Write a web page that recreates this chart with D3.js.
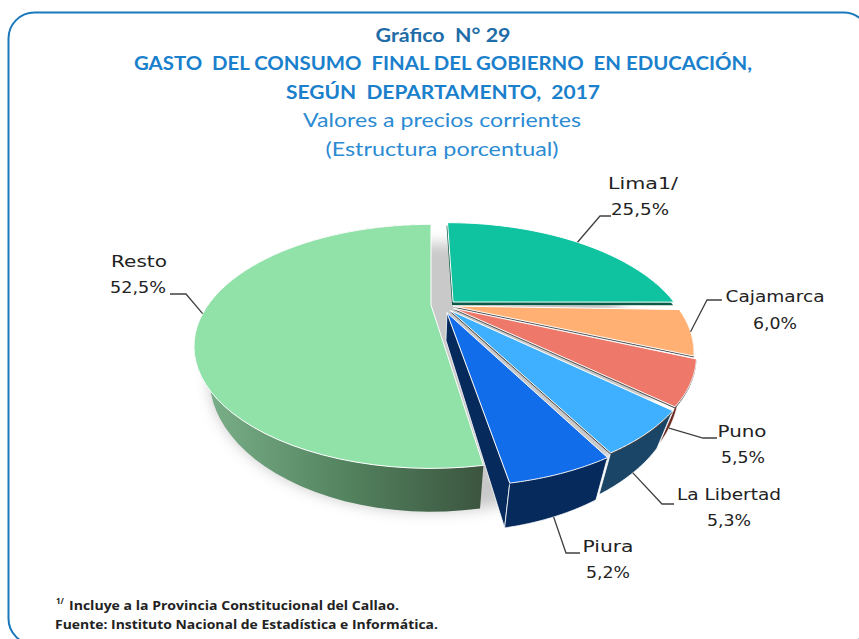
<!DOCTYPE html>
<html><head><meta charset="utf-8">
<script src="https://cdnjs.cloudflare.com/ajax/libs/d3/7.8.5/d3.min.js"></script>
<style>html,body{margin:0;padding:0;background:#fff}svg{display:block}</style>
</head><body><svg id="c" width="859" height="639"></svg>
<script>
// --- data
const categories = ["Lima1/", "Cajamarca", "Puno", "La Libertad", "Piura", "Resto"];
const shares = [25.5, 6.0, 5.5, 5.3, 5.2, 52.5];
// --- styles and layout
const topColors  = ["#10c3a0", "#ffb072", "#ee786a", "#3fb0ff", "#126dea", "#90e2a9"];
const wallColors = [null, null, "#6e2f28", "#1a4566", "#062a5c", "url(#wallGrad)"];
const lipColors  = ["#0a5a48", "#555", "#555", "#444", "#062a5c", null];
const explodeU = [.10, .098, .10, .085, .07, 0];
const explodeV = [-.028, .01, .03, .05, .07, 0];
const endTrim = [.03, 0, 0, 0, 0, 0];
const anchorOnBase = [false, false, true, true, true, false];
const anchorFrac = [.5, .5, .7, .5, .5, .5];
const knees = [[600,216,611,216],[707,300,722,300],[703,438,717,438],[662,504,674,504],[566,553,580,553],[186,294,170,294]];
const labelPos = [[643,189,70],[775,302,99],[742,437,49],[729,500,104],[608,552,51],[139,267,56]];
const valuePos = [[640,215,58],[775,329,44],[743,463,44],[729,526,44],[608,578,44],[138,293,56]];

const X0 = 431, Y0 = 305, A = 223, B = 108, K = .339;   // perspective plane
const SX = .935, SY = 1.1, DY = 27;                      // base plane

const svg = d3.select("#c");
const defs = svg.append("defs");
const f = defs.append("filter").attr("id","blur").attr("x","-20%").attr("y","-20%").attr("width","140%").attr("height","140%");
f.append("feGaussianBlur").attr("stdDeviation",7);
const g = defs.append("linearGradient").attr("id","wallGrad").attr("gradientUnits","userSpaceOnUse")
  .attr("x1",205).attr("x2",480).attr("y1",0).attr("y2",0);
g.append("stop").attr("offset",0).attr("stop-color","#7ab089");
g.append("stop").attr("offset",.5).attr("stop-color","#548460");
g.append("stop").attr("offset",1).attr("stop-color","#3c5640");

svg.append("rect").attr("x",8.5).attr("y",12.5).attr("width",861).attr("height",632).attr("rx",26)
  .attr("fill","#fff").attr("stroke","#1a78bd").attr("stroke-width",2);

const project = (u,v) => { const w = 1 - K*v; return [X0 + A*u/w, Y0 + B*v/w]; };
const toBase = p => [X0 + (p[0]-X0)*SX, Y0 + (p[1]-Y0)*SY + DY];
const pt = (i,a,r=1) => project(explodeU[i] + r*Math.sin(a), explodeV[i] - r*Math.cos(a));
const arcPts = (i,a0,a1) => d3.range(0,61).map(k => pt(i, a0 + (a1-a0)*k/60));
const line = d3.line();
const pieData = d3.pie().sort(null).value(d => d)(shares);

// soft shadow under the pie
const full = d3.range(0,121).map(k => toBase(project(Math.sin(k/120*2*Math.PI), -Math.cos(k/120*2*Math.PI))));
svg.append("path").attr("d", line(full)+"Z").attr("fill","#8a8a8a").attr("opacity",.46).attr("filter","url(#blur)");

const slices = svg.append("g");
const topPath = (d,i) => line([pt(i,0,0), ...arcPts(i,d.startAngle,d.endAngle-endTrim[i])]) + "Z";

// Piura cut face
{
  const i = 4, d = pieData[i];
  const a = pt(i,0,0), o = pt(i,d.endAngle);
  slices.append("path").attr("d", line([a,o,toBase(o),toBase(a)])+"Z").attr("fill",wallColors[i]).attr("stroke","#fff").attr("stroke-width",.8);
}
// outer walls
[5,2,3,4].forEach(i => {
  const d = pieData[i], top = arcPts(i,d.startAngle,d.endAngle);
  slices.append("path").attr("d", line([...top, ...top.map(toBase).reverse()])+"Z")
    .attr("fill",wallColors[i]).attr("stroke", i===5 ? "none" : "#fff").attr("stroke-width",.8);
});
// top faces with their thin darker lips, back to front
[0,1,2,3,4,5].forEach(i => {
  const d = pieData[i];
  if (lipColors[i]) slices.append("path").attr("d",topPath(d,i)).attr("fill",lipColors[i])
    .attr("transform", i===0 ? "translate(-1,3)" : "translate(0,1.6)");
  slices.append("path").attr("d",topPath(d,i)).attr("fill",topColors[i]).attr("stroke","#fff").attr("stroke-width",1);
});

// leader lines
pieData.forEach((d,i) => {
  const p = pt(i, d.startAngle + (d.endAngle-d.startAngle)*anchorFrac[i]);
  const anchor = anchorOnBase[i] ? toBase(p) : p, k = knees[i];
  svg.append("path").attr("d", line([anchor,[k[0],k[1]],[k[2],k[3]]])).attr("fill","none").attr("stroke","#404040").attr("stroke-width",1.3);
});

// labels
const fmt = d3.formatLocale({decimal:",",thousands:".",grouping:[3],currency:["",""]}).format(".1f");
const label = (t,p) => svg.append("text").attr("x",p[0]).attr("y",p[1]).attr("text-anchor","middle")
  .attr("textLength",p[2]).attr("lengthAdjust","spacingAndGlyphs")
  .attr("font-family","'DejaVu Sans'").attr("font-size",16.5).attr("fill","#222").text(t);
categories.forEach((c,i) => { label(c,labelPos[i]); label(fmt(shares[i])+"%",valuePos[i]); });

// titles
const titles = [
 ["Gráfico  N° 29",443,42,135,700,"#1f6da8"],
 ["GASTO  DEL CONSUMO  FINAL DEL GOBIERNO  EN EDUCACIÓN,",443,70,618,700,"#1a80cc"],
 ["SEGÚN  DEPARTAMENTO,  2017",443,99,314,700,"#1a80cc"],
 ["Valores a precios corrientes",442,127,278,400,"#2b8bd3"],
 ["(Estructura porcentual)",442,156,233,400,"#2b8bd3"]];
titles.forEach(t => svg.append("text").attr("x",t[1]).attr("y",t[2]).attr("text-anchor","middle")
  .attr("textLength",t[3]).attr("lengthAdjust","spacingAndGlyphs").style("white-space","pre")
  .attr("font-family","Lato").attr("font-size",19).attr("font-weight",t[4]).attr("fill",t[5]).text(t[0]));

// footer
const foot = [["Incluye a la Provincia Constitucional del Callao.",69,610,330],["Fuente: Instituto Nacional de Estadística e Informática.",55,629,383]];
foot.forEach(t => svg.append("text").attr("x",t[1]).attr("y",t[2]).attr("textLength",t[3]).attr("lengthAdjust","spacingAndGlyphs")
  .attr("font-family","'Open Sans'").attr("font-size",11.5).attr("font-weight",700).attr("fill","#222").text(t[0]));
svg.append("text").attr("x",56).attr("y",604).attr("font-family","'Open Sans'").attr("font-size",8).attr("font-weight",700).attr("fill","#222").text("1/");
</script></body></html>
